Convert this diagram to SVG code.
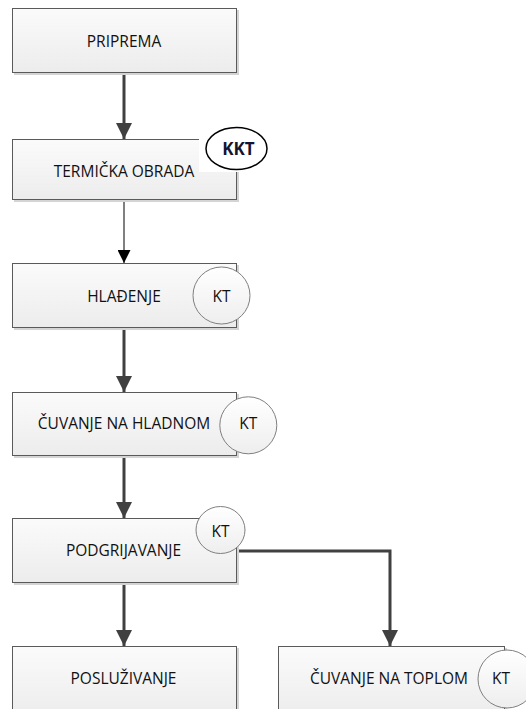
<svg xmlns="http://www.w3.org/2000/svg" width="526" height="709" viewBox="0 0 526 709">
<defs>
<linearGradient id="gBox" x1="0" y1="0" x2="0" y2="1">
<stop offset="0" stop-color="#fbfbfb"/>
<stop offset="1" stop-color="#ececec"/>
</linearGradient>
<linearGradient id="gCirc" x1="0" y1="0" x2="0" y2="1">
<stop offset="0" stop-color="#ffffff"/>
<stop offset="1" stop-color="#eeeeee"/>
</linearGradient>
<marker id="arrThick" markerWidth="16" markerHeight="16" viewBox="0 0 16 16" refX="16" refY="8" orient="auto" markerUnits="userSpaceOnUse">
<path d="M0,0 L16,8 L0,16 Z" fill="#404040"/>
</marker>
<marker id="arrThin" markerWidth="13" markerHeight="13" viewBox="0 0 13 13" refX="13" refY="6.5" orient="auto" markerUnits="userSpaceOnUse">
<path d="M0,0 L13,6.5 L0,13 Z" fill="#000"/>
</marker>
</defs>
<style>
.box{fill:url(#gBox);stroke:#5a5a5a;stroke-width:1}
.shadow{fill:#d4d4d4}
.circ{fill:url(#gCirc);stroke:#7f7f7f;stroke-width:1}
.lbl{font-family:"Open Sans","Liberation Sans",sans-serif;font-size:15.5px;fill:#111;text-anchor:middle}
.thick{stroke:#404040;stroke-width:3;fill:none}
.thin{stroke:#000;stroke-width:1;fill:none}
</style>
<rect width="526" height="709" fill="#ffffff"/>

<g id="connectors">
<line class="thick" x1="124" y1="72" x2="124" y2="139" marker-end="url(#arrThick)"/>
<line class="thin" x1="124" y1="199" x2="124" y2="263" marker-end="url(#arrThin)"/>
<line class="thick" x1="124" y1="327" x2="124" y2="392" marker-end="url(#arrThick)"/>
<line class="thick" x1="124" y1="455" x2="124" y2="518" marker-end="url(#arrThick)"/>
<line class="thick" x1="124" y1="582" x2="124" y2="646" marker-end="url(#arrThick)"/>
<polyline class="thick" points="238,551 390,551 390,646" marker-end="url(#arrThick)"/>
</g>

<g id="n1">
<rect class="shadow" x="14" y="10" width="225" height="65"/>
<rect class="box" x="12.5" y="8.5" width="224" height="64"/>
<text class="lbl" x="124" y="47">PRIPREMA</text>
</g>

<g id="n2">
<rect class="shadow" x="14" y="141" width="225" height="61"/>
<rect class="box" x="12.5" y="139.5" width="224" height="60"/>
<text class="lbl" x="124" y="177">TERMIČKA OBRADA</text>
<rect x="199" y="126" width="70" height="46" fill="#ffffff"/>
<ellipse cx="236.5" cy="148.5" rx="30.5" ry="21" fill="#ffffff" stroke="#000" stroke-width="1.5"/>
<text class="lbl" x="238.5" y="155" style="font-weight:bold;font-size:17px;fill:#141432">KKT</text>
</g>

<g id="n3">
<rect class="shadow" x="14" y="265" width="225" height="65"/>
<rect class="box" x="12.5" y="263.5" width="224" height="64"/>
<text class="lbl" x="124" y="302">HLAĐENJE</text>
<circle class="circ" cx="221.5" cy="295.5" r="28.5"/>
<text class="lbl" x="221.5" y="302">KT</text>
</g>

<g id="n4">
<rect class="shadow" x="14" y="394" width="225" height="64"/>
<rect class="box" x="12.5" y="392.5" width="224" height="63"/>
<text class="lbl" x="124" y="429">ČUVANJE NA HLADNOM</text>
<circle class="circ" cx="248.3" cy="425.3" r="28.5"/>
<text class="lbl" x="248.3" y="429">KT</text>
</g>

<g id="n5">
<rect class="shadow" x="14" y="520" width="225" height="65"/>
<rect class="box" x="12.5" y="518.5" width="224" height="64"/>
<text class="lbl" x="123.5" y="556">PODGRIJAVANJE</text>
<ellipse class="circ" cx="220.5" cy="530" rx="24.5" ry="23.5"/>
<text class="lbl" x="220.5" y="537">KT</text>
</g>

<g id="n6">
<rect class="shadow" x="14" y="648" width="225" height="70"/>
<rect class="box" x="12.5" y="646.5" width="224" height="70"/>
<text class="lbl" x="123.5" y="684">POSLUŽIVANJE</text>
</g>

<g id="n7">
<rect class="shadow" x="280" y="648" width="227" height="70"/>
<rect class="box" x="278.5" y="646.5" width="226" height="70"/>
<text class="lbl" x="389" y="684">ČUVANJE NA TOPLOM</text>
<circle class="circ" cx="507" cy="679" r="29"/>
<text class="lbl" x="501" y="684">KT</text>
</g>
</svg>
